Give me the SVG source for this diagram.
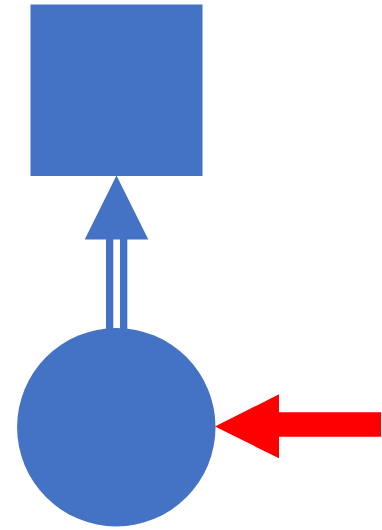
<svg xmlns="http://www.w3.org/2000/svg" width="382" height="530" viewBox="0 0 382 530">
<style>
.blue{fill:#4472C4}
.red{fill:#FF0000}
</style>
<g id="square"><rect class="blue" x="30.5" y="4.5" width="172" height="171.5"/></g>
<g id="circle"><circle class="blue" cx="116.3" cy="427.2" r="99.2"/></g>
<g id="connectors">
<rect class="blue" x="106" y="238" width="7.3" height="91"/>
<rect class="blue" x="120" y="238" width="7.3" height="91"/>
<polygon class="blue" points="116.5,175.5 148.3,239.5 84.7,239.5"/>
<polygon class="red" points="215,426.5 279,394.3 279,412.3 381,412.3 381,436.7 279,436.7 279,458.3"/>
</g>
</svg>
